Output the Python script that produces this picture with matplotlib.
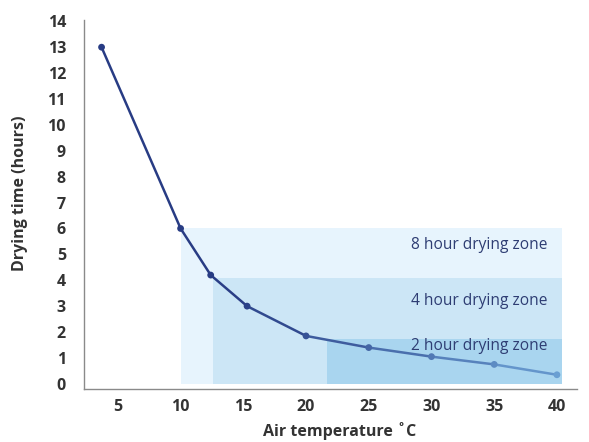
import numpy as np
import matplotlib
matplotlib.use("Agg")
import matplotlib.pyplot as plt
from matplotlib.collections import LineCollection
from matplotlib.colors import to_rgb

# drying curve
temps = [3.7, 10, 12.4, 15.3, 20, 25, 30, 35, 40]
hours = [13.0, 6.0, 4.2, 3.0, 1.85, 1.4, 1.05, 0.75, 0.35]

# drying zones: (label, x start, x end, y top)
zone_labels = ["8 hour drying zone", "4 hour drying zone", "2 hour drying zone"]
zone_x0 = [10, 12.6, 21.7]
zone_x1 = [40.4, 40.4, 40.4]
zone_top = [6.0, 4.1, 1.75]
zone_text_y = [5.35, 3.2, 1.45]

x_ticks = [5, 10, 15, 20, 25, 30, 35, 40]
y_ticks = list(range(0, 15))

zone_colors = ["#e7f4fd", "#cce6f6", "#a9d5ef"]
text_color = "#2e3d73"
tick_color = "#333333"

plt.rcParams["font.family"] = ["Open Sans", "DejaVu Sans"]

fig = plt.figure(figsize=(5.89, 4.42), dpi=100)
ax = fig.add_axes([84 / 589, 53 / 442, 493 / 589, 369 / 442])

for x0, x1, top, c in zip(zone_x0, zone_x1, zone_top, zone_colors):
    ax.fill_between([x0, x1], 0, top, color=c, lw=0, zorder=1)

for lab, ty in zip(zone_labels, zone_text_y):
    ax.text(39.2, ty, lab, ha="right", va="center", fontsize=11.2,
            color=text_color, zorder=3)

# line fades from dark navy to light blue towards high temperatures
dark = np.array(to_rgb("#283c84"))
light = np.array(to_rgb("#6a9fd2"))
t = np.clip((np.array(temps) - 14) / 26, 0, 1)
pt_cols = [dark + (light - dark) * v for v in t]
pts = np.column_stack([temps, hours])
segs = np.stack([pts[:-1], pts[1:]], axis=1)
seg_cols = [(pt_cols[i] + pt_cols[i + 1]) / 2 for i in range(len(segs))]
ax.add_collection(LineCollection(segs, colors=seg_cols, linewidths=1.8,
                                 capstyle="round", joinstyle="round", zorder=4))
ax.scatter(temps, hours, s=24, c=pt_cols, zorder=5, linewidths=0)

ax.set_xlim(2.3, 41.6)
ax.set_ylim(-0.2, 14.05)
ax.set_xticks(x_ticks)
ax.set_yticks(y_ticks)
ax.tick_params(length=0, labelsize=11.5, labelcolor=tick_color)
ax.tick_params(axis="y", pad=13)
ax.tick_params(axis="x", pad=7)
for lab in ax.get_xticklabels() + ax.get_yticklabels():
    lab.set_fontweight("bold")

for s in ["top", "right"]:
    ax.spines[s].set_visible(False)
for s in ["left", "bottom"]:
    ax.spines[s].set_color("#8a8a8a")
    ax.spines[s].set_linewidth(1.0)

ax.set_xlabel("Air temperature ˚C", fontsize=11.5, fontweight="bold",
              color=tick_color)
ax.set_ylabel("Drying time (hours)", fontsize=11.5, fontweight="bold",
              color=tick_color)
ax.xaxis.set_label_coords((340 - 84) / 493, (389 - 431) / 369)
ax.yaxis.set_label_coords((20 - 84) / 493, (389 - 193) / 369)
ax.xaxis.label.set_va("center")
ax.yaxis.label.set_va("center")

fig.savefig("out.png", dpi=100)
